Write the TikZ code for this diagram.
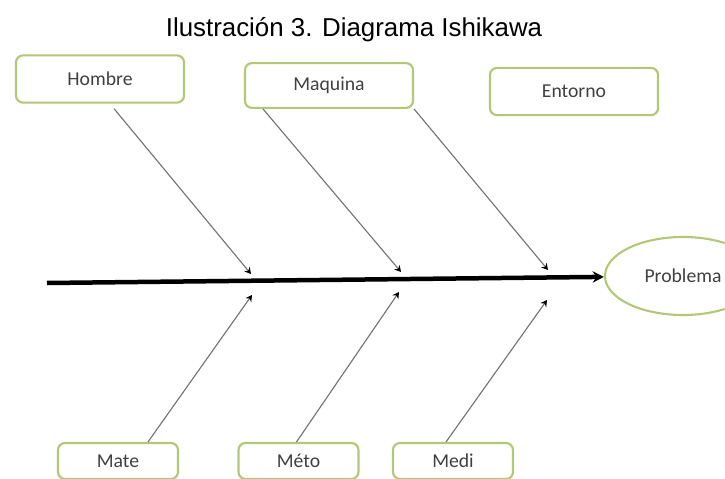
\documentclass[tikz,border=0pt]{standalone}
\usepackage{fontspec}
\setmainfont{Carlito}
\newfontfamily\titlefont{Liberation Sans}
\usetikzlibrary{arrows.meta,shapes.geometric,calc}

\definecolor{boxgreen}{RGB}{178,200,118}
\definecolor{labelgray}{RGB}{64,64,64}
\definecolor{bonegray}{RGB}{115,115,115}

\tikzset{
	cause/.style={draw=boxgreen, line width=1.5pt, rounded corners=5pt, fill=white,
		text=labelgray, font=\fontsize{14}{16}\selectfont,
		minimum width=4.2cm, minimum height=1.18cm, inner sep=0pt},
	lowcause/.style={cause, minimum width=3cm, minimum height=0.9cm},
	bone/.style={draw=bonegray, line width=0.8pt, -{Stealth[length=4.5pt,width=5pt,color=black]}},
	spine/.style={draw=black, line width=3.2pt, -{Stealth[length=8pt,width=8pt]}}
}

\begin{document}
\begin{tikzpicture}[x=0.025cm, y=-0.025cm]
	\clip (0,0) rectangle (725,479);
	\node[anchor=base, font=\titlefont\fontsize{18.4}{22}\selectfont] (title) at (354,37) {Ilustración 3. Diagrama Ishikawa};
	
	% causas de arriba
	\node[cause] (H) at (100,79) {Hombre};
	\node[cause, minimum height=1.12cm] (M) at (329,85.5) {Maquina};
	\node[cause] (E) at (574,91.5) {Entorno};
	
	% causas de abajo
	\node[lowcause] (Ma) at (118,461) {Mate};
	\node[lowcause] (Me) at (298.5,461) {Méto};
	\node[lowcause] (Md) at (453,461) {Medi};
	
	\node[draw=boxgreen, line width=1.5pt, ellipse, minimum width=3.9cm, minimum height=1.95cm,
		text=labelgray, font=\fontsize{14}{16}\selectfont] (P) at (683,276) {Problema};
	
	% espina
	\coordinate (S) at (47,283);
	\draw[spine] (S) -- (P);
	
	% puntos de llegada
	\coordinate (h1) at (251,274);
	\coordinate (m1) at (401,272);
	\coordinate (m2) at (548,270);
	\coordinate (a1) at (252,295);
	\coordinate (a2) at (399,292);
	\coordinate (a3) at (547,300);
	
	\draw[bone] ($(H.south)+(14,5)$) -- (h1);
	\draw[bone] ($(M.south)+(-66,0)$) -- (m1);
	\draw[bone] (M.south east) -- (m2);
	\draw[bone] ($(Ma.north)+(30,0)$) -- (a1);
	\draw[bone] ($(Me.north)+(-2,0)$) -- (a2);
	\draw[bone] ($(Md.north)+(-7,0)$) -- (a3);
\end{tikzpicture}
\end{document}
